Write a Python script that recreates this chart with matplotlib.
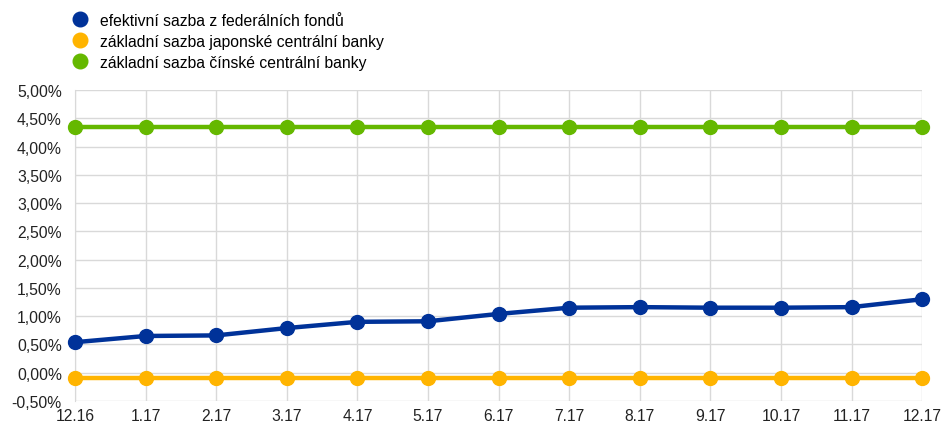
import numpy as np
import matplotlib.pyplot as plt
from matplotlib.ticker import FuncFormatter

plt.rcParams['font.family'] = ['Liberation Sans', 'DejaVu Sans']

# data
months = ['12.16', '1.17', '2.17', '3.17', '4.17', '5.17', '6.17',
          '7.17', '8.17', '9.17', '10.17', '11.17', '12.17']
fed = [0.54, 0.65, 0.66, 0.79, 0.90, 0.91, 1.04, 1.15, 1.16, 1.15, 1.15, 1.16, 1.30]
boj = [-0.10] * 13
pboc = [4.35] * 13
labels = ['efektivní sazba z federálních fondů',
          'základní sazba japonské centrální banky',
          'základní sazba čínské centrální banky']
colors = ['#003299', '#FFB400', '#65B800']

fig = plt.figure(figsize=(9.41, 4.27), dpi=100)
ax = fig.add_axes([0.0797, 0.0585, 0.9003, 0.7285])

x = np.arange(len(months))
for y, lab, c in zip([fed, boj, pboc], labels, colors):
    ax.plot(x, y, color=c, lw=3.2, marker='o', ms=10, label=lab,
            solid_capstyle='round', zorder=3, clip_on=False)

ax.set_xlim(0, len(months) - 1)
ax.set_ylim(-0.5, 5.0)
ax.set_yticks(np.arange(-0.5, 5.01, 0.5))
ax.yaxis.set_major_formatter(FuncFormatter(lambda v, p: f'{v:.2f}%'.replace('.', ',')))
ax.set_xticks(x)
ax.set_xticklabels(months)
ax.grid(True, color='#d9d9d9', lw=1)
ax.set_axisbelow(True)
for s in ['top', 'right', 'bottom']:
    ax.spines[s].set_visible(False)
ax.spines['left'].set_color('#d9d9d9')
ax.tick_params(length=0, labelsize=11.3, colors='#222222')
ax.tick_params(axis='y', pad=9.5)
ax.tick_params(axis='x', pad=5)

handles = [plt.Line2D([], [], ls='none', marker='o', ms=10.5, color=c) for c in colors]
fig.legend(handles, labels, loc='upper left', bbox_to_anchor=(0.069, 0.982),
           frameon=False, fontsize=11.3, handletextpad=0.75, labelspacing=0.38,
           handlelength=1.1, borderaxespad=0)

fig.savefig('out.png', dpi=100)
